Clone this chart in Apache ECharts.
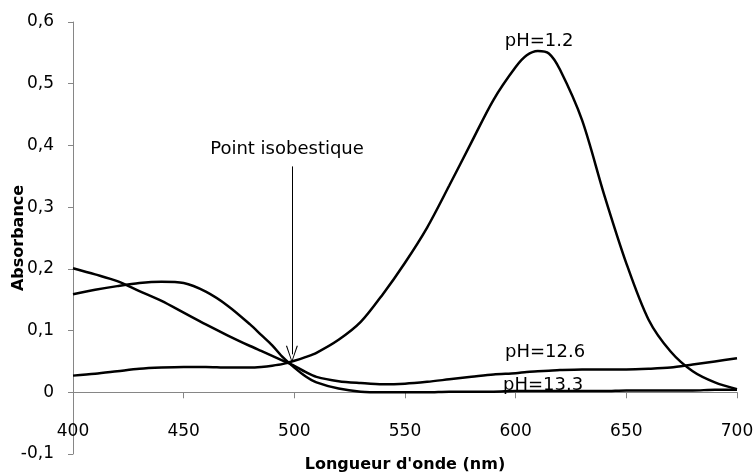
<!DOCTYPE html>
<html>
<head>
<meta charset="utf-8">
<script src="https://cdn.jsdelivr.net/npm/echarts@6/dist/echarts.min.js"></script>
<style>
html, body { margin: 0; padding: 0; background: #fff; }
#main { width: 755px; height: 475px; }
</style>
</head>
<body>
<div id="main"></div>
<script>
// longueurs d'onde (nm)
var wavelengths = [400, 410, 420, 430, 440, 450, 460, 470, 480, 485, 490, 495, 500, 505, 510, 520, 530, 540, 550, 560,
    570, 580, 590, 600, 605, 610, 615, 620, 630, 640, 650, 660, 670, 680, 690, 700]

var absPH1_2 = [0.027, 0.030, 0.034, 0.038, 0.040, 0.041, 0.041, 0.040, 0.040, 0.041, 0.043, 0.046, 0.051, 0.057, 0.064, 0.085, 0.114, 0.159, 0.210, 0.267,
    0.335, 0.405, 0.474, 0.527, 0.546, 0.553, 0.549, 0.523, 0.441, 0.320, 0.209, 0.118, 0.066, 0.034, 0.016, 0.005]

var absPH12_6 = [0.201, 0.191, 0.180, 0.164, 0.148, 0.129, 0.110, 0.092, 0.075, 0.067, 0.059, 0.051, 0.043, 0.033, 0.025, 0.018, 0.015, 0.013, 0.014, 0.017,
    0.021, 0.025, 0.029, 0.031, 0.033, 0.034, 0.035, 0.036, 0.037, 0.037, 0.037, 0.038, 0.040, 0.045, 0.050, 0.055]

var absPH13_3 = [0.159, 0.166, 0.172, 0.177, 0.179, 0.177, 0.163, 0.140, 0.110, 0.093, 0.076, 0.056, 0.040, 0.026, 0.016, 0.006, 0.001, 0.000, 0.000, 0.000,
    0.001, 0.001, 0.001, 0.002, 0.002, 0.002, 0.002, 0.002, 0.002, 0.002, 0.003, 0.003, 0.003, 0.003, 0.004, 0.004]

var seriesNames = ['pH=1.2', 'pH=12.6', 'pH=13.3']

function pairs(ys) {
    return wavelengths.map(function(x, i) {
        return [x, ys[i]]
    })
}

var font = 'DejaVu Sans'
var axisColor = '#868686'

function textPoint(text, coord) {
    return {
        coord: coord,
        symbolSize: 0,
        label: {
            show: true,
            position: 'inside',
            formatter: text,
            color: '#000',
            fontFamily: font,
            fontSize: 18
        }
    }
}

var myChart = echarts.init(document.getElementById('main'))
var option = {
    animation: false,
    grid: { left: 73, right: 18, top: 22, bottom: 21, outerBoundsMode: 'none', containLabel: false },
    xAxis: [
        {
            // axe sur y=0 : trait et graduations
            type: 'value',
            min: 400,
            max: 700,
            interval: 50,
            axisLine: { onZero: true, lineStyle: { color: axisColor, width: 1 } },
            axisTick: { show: true, length: 6, lineStyle: { color: axisColor } },
            axisLabel: { show: false },
            splitLine: { show: false }
        },
        {
            // libellés et titre en bas
            type: 'value',
            min: 400,
            max: 700,
            interval: 50,
            position: 'bottom',
            name: "Longueur d'onde (nm)",
            nameLocation: 'middle',
            nameGap: 3,
            nameMoveOverlap: false,
            nameTextStyle: { fontFamily: font, fontWeight: 'bold', fontSize: 16, color: '#000' },
            axisLine: { show: false, onZero: false },
            axisTick: { show: false },
            axisLabel: { inside: true, margin: 14, fontFamily: font, fontSize: 17, color: '#000' },
            splitLine: { show: false }
        }
    ],
    yAxis: {
        type: 'value',
        min: -0.1,
        max: 0.6,
        interval: 0.1,
        name: 'Absorbance',
        nameLocation: 'middle',
        nameRotate: 90,
        nameGap: 46,
        nameMoveOverlap: false,
        nameTextStyle: { fontFamily: font, fontWeight: 'bold', fontSize: 16, color: '#000' },
        axisLine: { show: true, lineStyle: { color: axisColor, width: 1 } },
        axisTick: { show: true, length: 5, lineStyle: { color: axisColor } },
        axisLabel: {
            margin: 19,
            fontFamily: font,
            fontSize: 17,
            color: '#000',
            formatter: function(v) {
                return String(+v.toFixed(1)).replace('.', ',')
            }
        },
        splitLine: { show: false }
    },
    series: [
        {
            name: seriesNames[0],
            type: 'line',
            data: pairs(absPH1_2),
            smooth: 0.3,
            showSymbol: false,
            lineStyle: { color: '#000', width: 2.5 },
            markPoint: {
                silent: true,
                data: [
                    textPoint('pH=1.2', [610.6, 0.569]),
                    textPoint('pH=12.6', [613.3, 0.0655]),
                    textPoint('pH=13.3', [612.4, 0.0105]),
                    textPoint('Point isobestique', [496.7, 0.394])
                ]
            },
            markLine: {
                silent: true,
                symbol: ['none', 'path://M6,0 L12,17 L10.8,17 L6,2.5 L1.2,17 L0,17 Z'],
                symbolSize: [12, 17],
                lineStyle: { color: '#000', width: 1, type: 'solid' },
                label: { show: false },
                data: [[{ coord: [498.9, 0.366] }, { coord: [498.9, 0.0615] }]]
            }
        },
        {
            name: seriesNames[1],
            type: 'line',
            data: pairs(absPH12_6),
            smooth: 0.3,
            showSymbol: false,
            lineStyle: { color: '#000', width: 2.5 }
        },
        {
            name: seriesNames[2],
            type: 'line',
            data: pairs(absPH13_3),
            smooth: 0.3,
            showSymbol: false,
            lineStyle: { color: '#000', width: 2.5 }
        }
    ]
}
myChart.setOption(option)
</script>
</body>
</html>
